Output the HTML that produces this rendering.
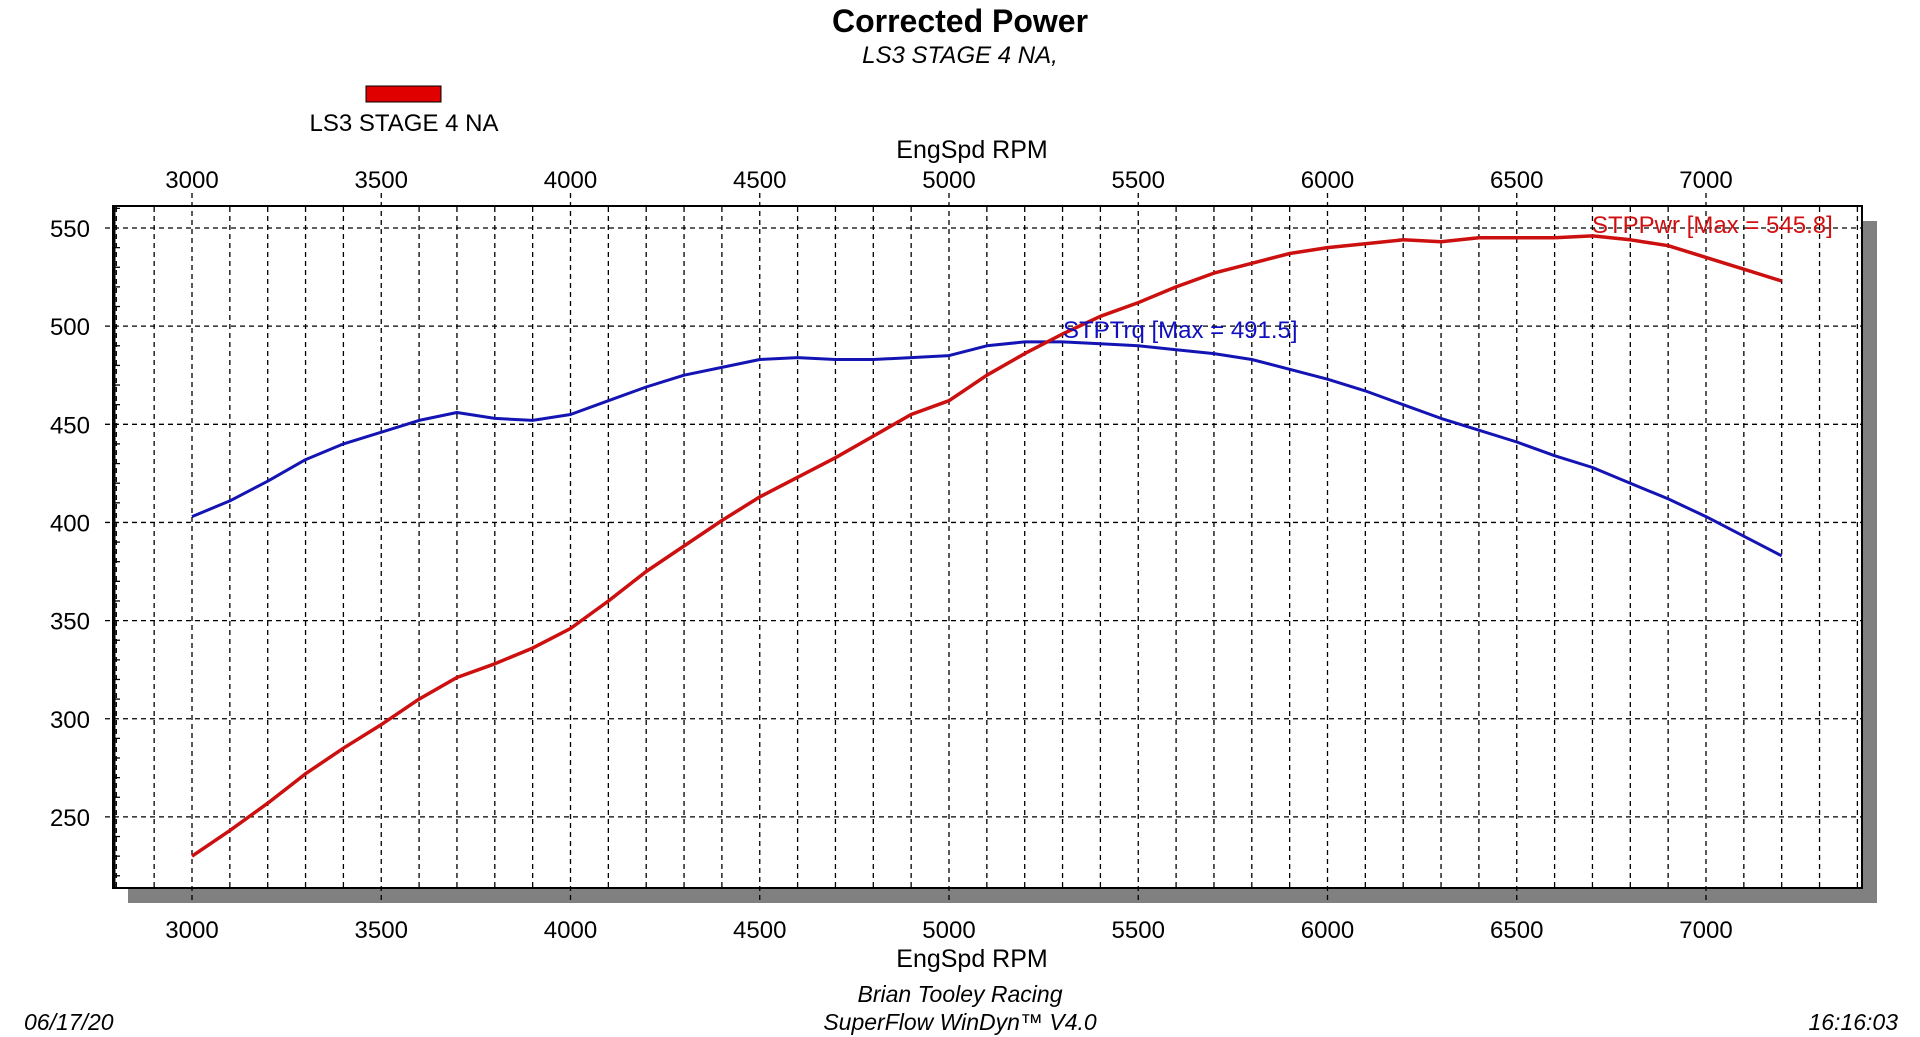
<!DOCTYPE html>
<html><head><meta charset="utf-8"><style>
body{margin:0;background:#fff;}
svg{display:block;font-family:"Liberation Sans",Arial,sans-serif;}
</style></head><body>
<svg id="chart" width="1920" height="1037" viewBox="0 0 1920 1037" xmlns="http://www.w3.org/2000/svg">
<text x="960" y="32" text-anchor="middle" font-size="32" font-weight="bold">Corrected Power</text>
<text x="960" y="63" text-anchor="middle" font-size="24" font-style="italic">LS3 STAGE 4 NA,</text>
<rect x="366" y="86" width="75" height="16" fill="#e00000" stroke="#000" stroke-width="1"/>
<text x="404" y="131" text-anchor="middle" font-size="24">LS3 STAGE 4 NA</text>
<text x="972" y="158" text-anchor="middle" font-size="25">EngSpd RPM</text>
<text x="972" y="967" text-anchor="middle" font-size="25">EngSpd RPM</text>
<text x="960" y="1002" text-anchor="middle" font-size="23" font-style="italic">Brian Tooley Racing</text>
<text x="960" y="1030" text-anchor="middle" font-size="23" font-style="italic">SuperFlow WinDyn™ V4.0</text>
<text x="24" y="1030" font-size="23" font-style="italic">06/17/20</text>
<text x="1898" y="1030" text-anchor="end" font-size="23" font-style="italic">16:16:03</text>
<rect x="1862" y="221" width="15" height="682" fill="#808080"/>
<rect x="128" y="888" width="1749" height="15" fill="#808080"/>
<rect x="113" y="206" width="1749" height="682" fill="#fff"/>
<g id="grid"></g>
<g id="series"></g>
<rect x="113" y="206" width="1749" height="682" fill="none" stroke="#000" stroke-width="2"/>
<line x1="114" y1="206" x2="114" y2="888" stroke="#000" stroke-width="3"/>
<text x="1063" y="338" font-size="24" fill="#1010c0">STPTrq [Max = 491.5]</text>
<text x="1592" y="233" font-size="24" fill="#d01010">STPPwr [Max = 545.8]</text>
</svg>
<script>
const rpm = [3000,3100,3200,3300,3400,3500,3600,3700,3800,3900,4000,4100,4200,4300,4400,4500,4600,4700,4800,4900,5000,5100,5200,5300,5400,5500,5600,5700,5800,5900,6000,6100,6200,6300,6400,6500,6600,6700,6800,6900,7000,7100,7200];
const torque = [403,411,421,432,440,446,452,456,453,452,455,462,469,475,479,483,484,483,483,484,485,490,492,492,491,490,488,486,483,478,473,467,460,453,447,441,434,428,420,412,403,393,383];
const power = [230,243,257,272,285,297,310,321,328,336,346,360,375,388,401,413,423,433,444,455,462,475,486,496,505,512,520,527,532,537,540,542,544,543,545,545,545,546,544,541,535,529,523];
const xTicks = [3000,3500,4000,4500,5000,5500,6000,6500,7000];
const yTicks = [250,300,350,400,450,500,550];

const NS = "http://www.w3.org/2000/svg";
const X = v => 192 + (v - 3000) * 0.3785;
const Y = v => 228 + (550 - v) * 1.963;
const svg = document.getElementById('chart');
const grid = document.getElementById('grid');
const series = document.getElementById('series');
function mk(tag, attrs, parent) {
  const e = document.createElementNS(NS, tag);
  for (const k in attrs) e.setAttribute(k, attrs[k]);
  parent.appendChild(e);
  return e;
}
for (let r = 2800; r <= 7400; r += 100) {
  const x = X(r);
  if (x < 114 || x > 1861) continue;
  const major = r % 500 === 0;
  const l = mk('line', {x1: x, x2: x, y1: major ? 193 : 207, y2: major ? 903 : 887, stroke: '#000', 'stroke-width': 1.3, 'stroke-dasharray': '5,4'}, grid);
  
  
}
for (let v = 220; v <= 560; v += 10) {
  const y = Y(v);
  if (y < 207 || y > 887) continue;
  if (v % 50 === 0) {
    const l = mk('line', {x1: 105, x2: 1861, y1: y, y2: y, stroke: '#000', 'stroke-width': 1.3, 'stroke-dasharray': '5,4'}, grid);
    
    
  } else {
    const l = mk('line', {x1: 114, x2: 120, y1: y, y2: y, stroke: '#000', 'stroke-width': 1.3}, grid);
    
    
  }
}
xTicks.forEach(t => {
  const a = mk('text', {x: X(t), y: 188, 'text-anchor': 'middle', 'font-size': 24}, svg);
  a.textContent = t;
  
  
  const b = mk('text', {x: X(t), y: 938, 'text-anchor': 'middle', 'font-size': 24}, svg);
  b.textContent = t;
  
  
});
yTicks.forEach(t => {
  const a = mk('text', {x: 90, y: Y(t) + 9, 'text-anchor': 'end', 'font-size': 24}, svg);
  a.textContent = t;
  
  
});
function pts(arr) { return rpm.map((r, i) => X(r).toFixed(1) + ',' + Y(arr[i]).toFixed(1)).join(' '); }
const tl = mk('polyline', {points: pts(torque), fill: 'none', stroke: '#1414b4', 'stroke-width': 3, 'stroke-linejoin': 'round'}, series);


const pl = mk('polyline', {points: pts(power), fill: 'none', stroke: '#cc1010', 'stroke-width': 3.5, 'stroke-linejoin': 'round'}, series);


</script>
</body></html>
